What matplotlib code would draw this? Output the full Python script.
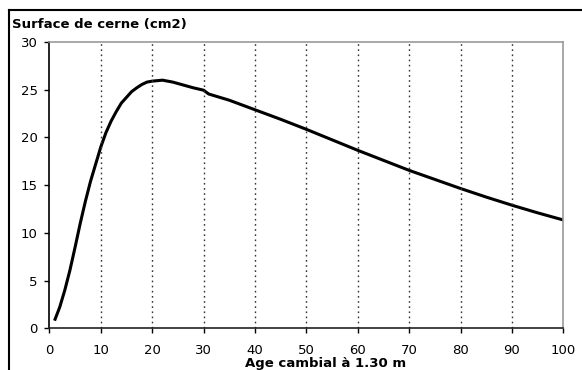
import matplotlib
matplotlib.use("Agg")
import matplotlib.pyplot as plt
from matplotlib.lines import Line2D

# Values
ages = [1, 2, 3, 4, 5, 6, 7, 8, 9, 10, 11, 12, 13, 14, 15, 16, 17, 18, 19, 20,
        22, 24, 26, 28, 30, 31, 35, 40, 45, 50, 55, 60, 65, 70, 75, 80, 85, 90, 95, 100]
surface = [0.8, 2.2, 4.0, 6.1, 8.5, 11.0, 13.3, 15.4, 17.2, 19.0, 20.5, 21.7, 22.7, 23.6,
           24.2, 24.8, 25.2, 25.55, 25.8, 25.9, 26.0, 25.8, 25.5, 25.2, 24.95, 24.55,
           23.9, 22.9, 21.9, 20.85, 19.75, 18.65, 17.6, 16.55, 15.6, 14.65, 13.75,
           12.9, 12.1, 11.35]

x_ticks = [0, 10, 20, 30, 40, 50, 60, 70, 80, 90, 100]
y_ticks = [0, 5, 10, 15, 20, 25, 30]

W, H = 582, 370
fig = plt.figure(figsize=(W / 100, H / 100), dpi=100)
ax = fig.add_axes([49.4 / W, 1 - 328.3 / H, (563.3 - 49.4) / W, (328.3 - 42) / H])

ax.plot(ages, surface, color='black', linewidth=2.2, solid_capstyle='butt')

ax.set_xlim(0, 100)
ax.set_ylim(0, 30)
ax.set_xticks(x_ticks)
ax.set_yticks(y_ticks)
ax.tick_params(axis='both', labelsize=9.5, length=3.5, width=1, color='black',
               direction='out')
ax.tick_params(axis='x', pad=8)
ax.tick_params(axis='y', pad=5)

for x in x_ticks[1:-1]:
    ax.axvline(x, color='#333333', linestyle=(0, (1.2, 2.5)), linewidth=1)

ax.spines['left'].set_color('black')
ax.spines['bottom'].set_color('#222222')
ax.spines['top'].set_color('#999999')
ax.spines['right'].set_color('#999999')
for s in ax.spines.values():
    s.set_linewidth(1.2)

fig.text(12 / W, 1 - 28 / H, 'Surface de cerne (cm2)', fontsize=9.5, fontweight='bold',
         ha='left', va='baseline')
fig.text(325.5 / W, 1 - 367.5 / H, 'Age cambial à 1.30 m', fontsize=9.5, fontweight='bold',
         ha='center', va='baseline')

# outer frame (left and top edges visible)
fig.add_artist(Line2D([9 / W, 1.0], [1 - 10 / H, 1 - 10 / H], transform=fig.transFigure,
                      color='black', linewidth=1.5))
fig.add_artist(Line2D([9 / W, 9 / W], [0, 1 - 10 / H], transform=fig.transFigure,
                      color='black', linewidth=1.5))

fig.savefig('out.png', dpi=100)
